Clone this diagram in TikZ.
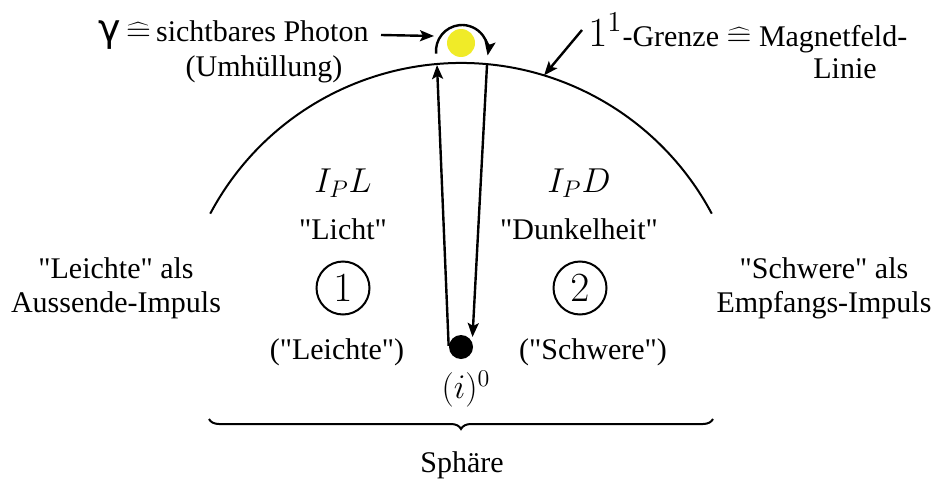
\documentclass[tikz,border=0pt]{standalone}
\usepackage{fontspec}
\setmainfont{Liberation Serif}
\newfontfamily\gammafont{DejaVu Sans}
\usepackage{tikz}
\usetikzlibrary{arrows.meta, positioning, decorations.pathreplacing, calc}
\definecolor{photoncolor}{RGB}{240,235,40}
\newcommand{\entspricht}{{\fontsize{18}{20}\selectfont$\widehat{=}$}}
\newcommand{\qq}[1]{\textquotedbl#1\textquotedbl}

\tikzset{
    lbl/.style={font=\fontsize{15}{17}\selectfont, align=center, inner sep=0pt},
    mlbl/.style={font=\fontsize{17.5}{20}\selectfont, inner sep=0pt},
    numkreis/.style={draw, circle, line width=1pt, minimum size=26.5pt, inner sep=0pt, font=\fontsize{20}{22}\selectfont},
    pfeil/.style={-{Stealth[length=7pt, width=5.5pt, inset=1.5pt]}, line width=1.2pt},
}

\begin{document}
\begin{tikzpicture}[x=0.5pt, y=-0.5pt]
\useasboundingbox (0,0) rectangle (931,482);

% Kern und Grenze
\node[circle, fill=black, minimum size=12pt, inner sep=0pt] (kern) at (461,347) {};
\draw[line width=1pt] ([shift={(152:142pt)}]kern.center) arc[start angle=152, end angle=28, radius=142pt];
\coordinate (grenzePunkt) at ([shift={(73:142pt)}]kern.center);
\coordinate (obenL) at (437,65);
\coordinate (obenR) at (487,65);

% Photon mit Umhuellung
\node[circle, fill=photoncolor, minimum size=14pt, inner sep=0pt] (photon) at (461,43) {};
\coordinate (bogenMitte) at (462,51);
\coordinate (bogenL) at (434,36);
\draw[pfeil] ([shift={(186:13pt)}]bogenMitte) arc[start angle=186, end angle=-10, radius=13pt];

\draw[pfeil] (kern.175) -- (obenL);
\draw[pfeil] (obenR) -- ([shift={(1pt,1pt)}]kern.40);

% Beschriftungen oben
\node[lbl, anchor=east] (photonText) at (369,35) {{\gammafont\fontsize{19}{20}\selectfont γ}\,\entspricht\,sichtbares Photon};
\node[lbl] (huelleText) at (264,69) {(Umhüllung)};
\draw[pfeil] ([xshift=6pt]photonText.east) -- (bogenL);

\node[lbl, anchor=west] (grenzeText) at (588,33) {{\fontsize{20}{22}\selectfont$1^1$}-Grenze \entspricht\ Magnetfeld-};
\node[lbl] (linieText) at (845,69) {Linie};
\draw[pfeil] ([xshift=-3pt, yshift=1.5pt]grenzeText.west) -- (grenzePunkt);

% Bereich 1
\node[mlbl] (ipl) at (343,183) {$I_PL$};
\node[lbl] (licht) at (343,229) {\qq{Licht}};
\node[numkreis] (eins) at (343,288) {$1$};
\node[lbl] (leichte) at (337,352) {(\qq{Leichte})};

% Bereich 2
\node[mlbl] (ipd) at (579,183) {$I_PD$};
\node[lbl] (dunkel) at (579,229) {\qq{Dunkelheit}};
\node[numkreis] (zwei) at (580,288) {$2$};
\node[lbl] (schwere) at (593,352) {(\qq{Schwere})};

% Impulse aussen
\node[lbl] (aussende) at (116,288) {\qq{Leichte} als\\Aussende-Impuls};
\node[lbl] (empfang) at (824,288) {\qq{Schwere} als\\Empfangs-Impuls};

% Ursprung und Sphaere
\node[mlbl] (ursprung) at (466,389) {$(i)^0$};
\coordinate (klammerL) at (209,419);
\coordinate (klammerR) at (713,419);
\draw[decorate, decoration={brace, mirror, amplitude=5pt}, line width=1pt] (klammerL) -- (klammerR);
\node[lbl] (sphaere) at (462,465) {Sphäre};
\end{tikzpicture}
\end{document}
